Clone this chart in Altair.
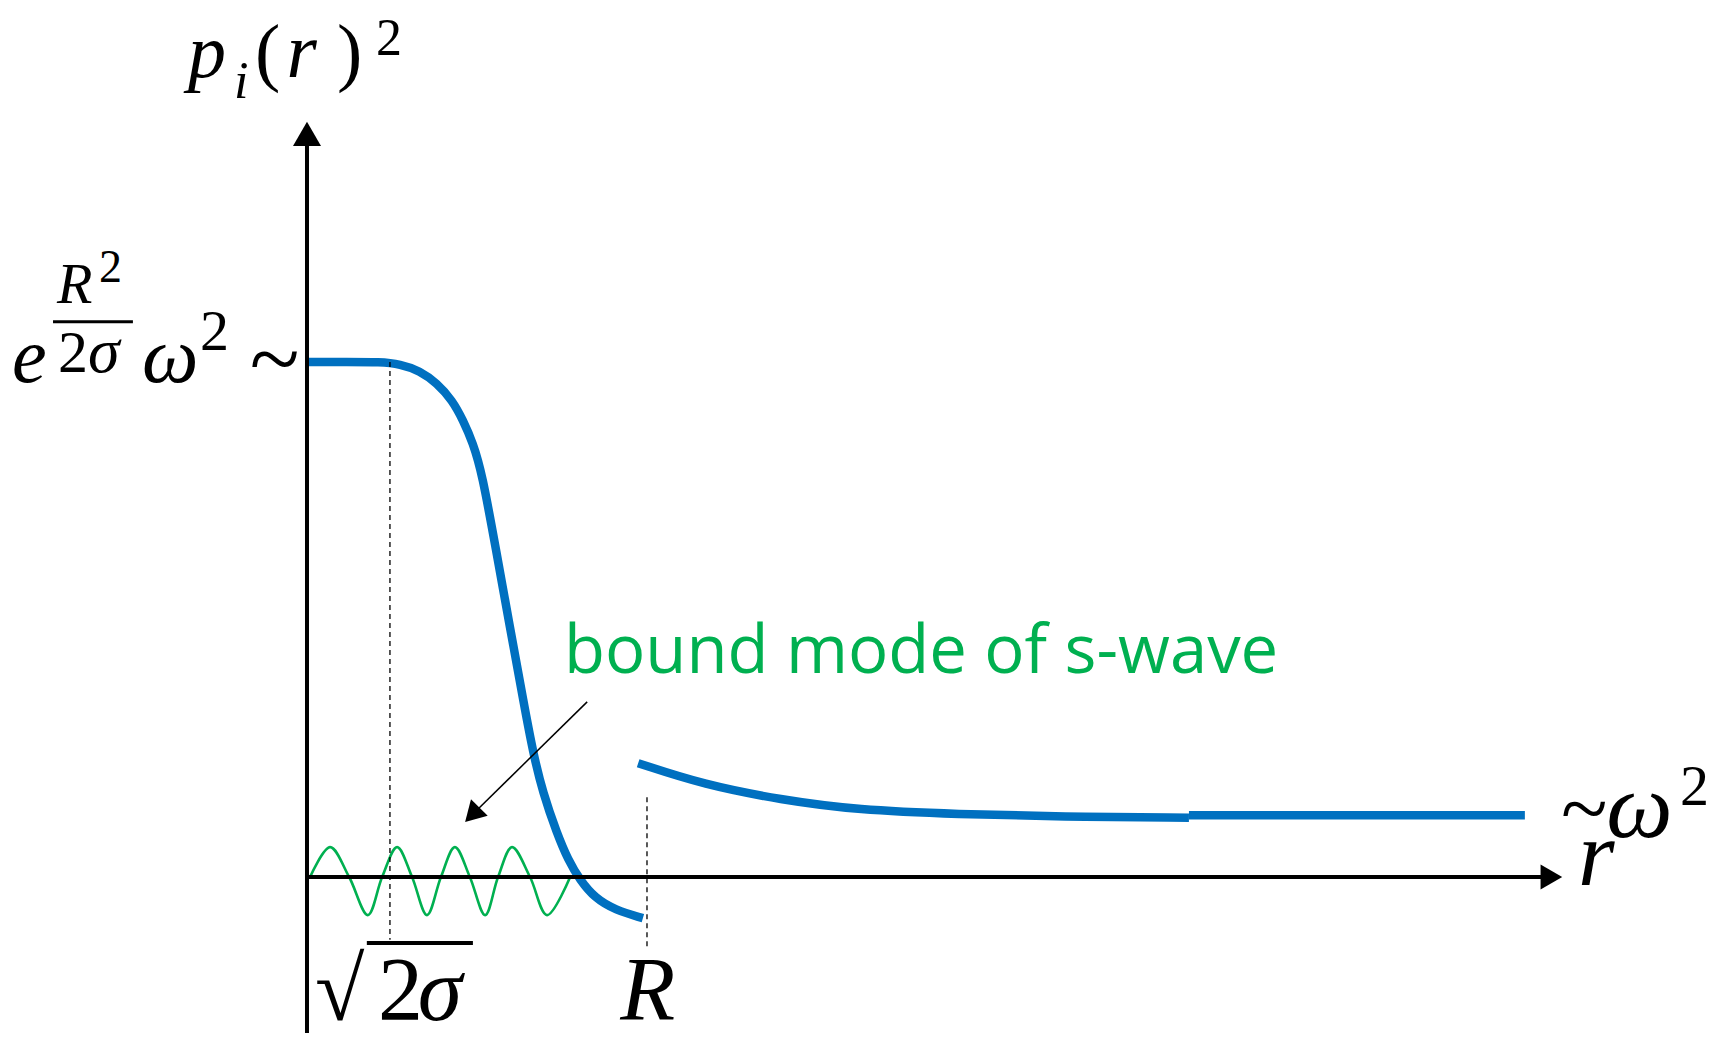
import altair as alt
import pandas as pd

# ---- data (schematic units: R = 10 on the r axis, plateau = 10 on the p axis) ----
inner_r = [0, 1.2, 2.15, 2.74, 3.32, 3.82, 4.27, 4.59, 4.88, 5.15, 5.56, 5.97, 6.38, 6.65,
           6.94, 7.35, 7.68, 8.03, 8.47, 9.06, 9.88]
inner_p = [10, 10, 10, 9.96, 9.83, 9.59, 9.26, 8.87, 8.43, 7.84, 6.35, 4.85, 3.36, 2.41,
           1.63, 0.85, 0.33, -0.06, -0.41, -0.64, -0.80]
outer_r = [9.74, 11.68, 13.94, 16.18, 19.18, 22.18, 25.94]
outer_p = [2.21, 1.79, 1.50, 1.30, 1.22, 1.17, 1.15]
tail_r = [25.94, 35.82]
tail_p = [1.2, 1.2]
wave_r = [0.09, 0.68, 1.24, 1.79, 2.21, 2.65, 3.09, 3.53, 3.94, 4.35, 4.79, 5.24, 5.62, 6.03, 6.56, 7.06, 7.74]
wave_p = [0, 0.58, 0, -0.74, 0, 0.58, 0, -0.74, 0, 0.58, 0, -0.74, 0, 0.58, 0, -0.74, 0]
sqrt2sigma = 2.44
R_val = 10.0
plateau = 10.0

X0, X1 = -8.794, 41.618
Y0, Y1 = -3.204, 16.874
W, H = 1714, 1034

xs = alt.Scale(domain=[X0, X1], nice=False, zero=False)
ys = alt.Scale(domain=[Y0, Y1], nice=False, zero=False)

def X(f="x"):
    return alt.X(f"{f}:Q", scale=xs, axis=None)

def Y(f="y"):
    return alt.Y(f"{f}:Q", scale=ys, axis=None)

BLUE = "#0070C0"
GREEN = "#00B050"

blue_df = pd.concat([
    pd.DataFrame({"x": inner_r, "y": inner_p, "seg": "a"}),
    pd.DataFrame({"x": outer_r, "y": outer_p, "seg": "b"}),
    pd.DataFrame({"x": tail_r, "y": tail_p, "seg": "c"}),
], ignore_index=True)
blue_df["o"] = range(len(blue_df))
wave = pd.DataFrame({"x": wave_r, "y": wave_p, "o": range(len(wave_r))})

blue = alt.Chart(blue_df).mark_line(color=BLUE, strokeWidth=8.5, interpolate="basis", strokeCap="butt").encode(
    x=X(), y=Y(), detail="seg:N", order="o:Q")
green = alt.Chart(wave).mark_line(color=GREEN, strokeWidth=2.6, interpolate="catmull-rom").encode(
    x=X(), y=Y(), order="o:Q")

axes_df = pd.DataFrame({
    "x": [0, 0], "x2": [0, 36.3],
    "y": [-3.03, 0], "y2": [14.2, 0],
})
axes = alt.Chart(axes_df).mark_rule(color="black", strokeWidth=4).encode(
    x=X(), x2="x2:Q", y=Y(), y2="y2:Q")

dash_df = pd.DataFrame({
    "x": [sqrt2sigma, R_val], "x2": [sqrt2sigma, R_val],
    "y": [plateau, 1.55], "y2": [-1.22, -1.42],
})
dashes = alt.Chart(dash_df).mark_rule(color="black", strokeWidth=1.3, strokeDash=[5, 4]).encode(
    x=X(), x2="x2:Q", y=Y(), y2="y2:Q")

yhead = alt.Chart(pd.DataFrame({"x": [0], "y": [14.43]})).mark_point(
    shape="triangle-up", size=784, filled=True, color="black", opacity=1, strokeWidth=0).encode(x=X(), y=Y())
xhead = alt.Chart(pd.DataFrame({"x": [36.6], "y": [0]})).mark_point(
    shape="triangle-right", size=625, filled=True, color="black", opacity=1, strokeWidth=0).encode(x=X(), y=Y())

ptr = alt.Chart(pd.DataFrame({"x": [8.24], "x2": [4.86], "y": [3.40], "y2": [1.21]})).mark_rule(
    color="black", strokeWidth=1.5).encode(x=X(), x2="x2:Q", y=Y(), y2="y2:Q")
ptrhead = alt.Chart(pd.DataFrame({"x": [4.86], "y": [1.21]})).mark_point(
    shape="triangle-up", size=550, filled=True, color="black", opacity=1, strokeWidth=0, angle=224.5).encode(
    x=X(), y=Y())

bars = alt.Chart(pd.DataFrame({"x": [-7.47, 1.76], "x2": [-5.12, 4.88], "y": [10.78, -1.28], "w": [3, 4]})).mark_rule(
    color="black").encode(x=X(), x2="x2:Q", y=Y(), y2="y:Q", strokeWidth=alt.StrokeWidth("w:Q", scale=None))

italic = pd.DataFrame([
    ("p", -3.5, 15.53, 76), ("i", -2.15, 15.13, 52), ("r", -0.6, 15.53, 78),
    ("e", -8.68, 9.61, 78), ("R", -7.35, 11.15, 58), ("σ", -6.44, 9.81, 64), ("ω", -4.85, 9.61, 80),
    ("σ", 3.26, -2.78, 90), ("R", 9.21, -2.78, 90),
    ("ω", 38.21, 0.777, 94), ("r", 37.38, -0.155, 94),
], columns=["t", "x", "y", "s"])
upright = pd.DataFrame([
    ("(", -1.53, 15.53, 76), (")", 0.88, 15.53, 76), ("2", 2.03, 15.96, 52),
    ("2", -6.12, 11.55, 46), ("2", -7.32, 9.81, 60), ("2", -3.15, 10.23, 58), ("~", -1.68, 9.47, 92),
    ("2", 2.09, -2.78, 90),
    ("~", 36.88, 0.78, 86), ("2", 40.38, 1.40, 58),
], columns=["t", "x", "y", "s"])
radical = pd.DataFrame([("√", 0.235, -2.78, 90)], columns=["t", "x", "y", "s"])

t_it = alt.Chart(italic).mark_text(font="Liberation Serif", fontStyle="italic", align="left",
                                   baseline="alphabetic", color="black").encode(
    x=X(), y=Y(), text="t:N", size=alt.Size("s:Q", scale=None))
t_up = alt.Chart(upright).mark_text(font="Liberation Serif", align="left",
                                    baseline="alphabetic", color="black").encode(
    x=X(), y=Y(), text="t:N", size=alt.Size("s:Q", scale=None))
t_rad = alt.Chart(radical).mark_text(font="Liberation Serif", fontWeight="bold", align="left",
                                     baseline="alphabetic", color="black").encode(
    x=X(), y=Y(), text="t:N", size=alt.Size("s:Q", scale=None))

note = alt.Chart(pd.DataFrame({"x": [7.56], "y": [3.96], "t": ["bound mode of s-wave"]})).mark_text(
    font="Open Sans", fontSize=67, align="left", baseline="alphabetic", color=GREEN).encode(
    x=X(), y=Y(), text="t:N")

chart = alt.layer(
    green, blue, axes, dashes, yhead, xhead, ptr, ptrhead, bars, t_it, t_up, t_rad, note
).properties(width=W, height=H, autosize=alt.AutoSizeParams(type="none"), padding=0, background="white"
).configure_view(stroke=None)

chart.save("out.html", embed_options={"renderer": "svg", "actions": False})
